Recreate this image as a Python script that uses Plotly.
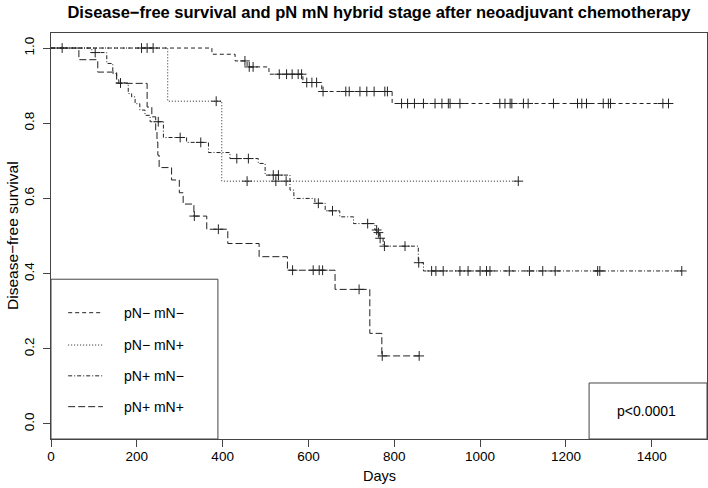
import plotly.graph_objects as go

# ---------------- data ----------------
groups = ["pN− mN−", "pN− mN+", "pN+ mN−", "pN+ mN+"]

nn_event_days = [375, 429, 457, 508, 587, 631, 795]
nn_event_surv = [0.9835, 0.9657, 0.9498, 0.9304, 0.9083, 0.8844, 0.8525]
nn_censor_days = [26, 211, 224, 238, 452, 462, 471, 532, 549, 562, 576, 584,
                  596, 608, 619, 634, 687, 695, 720, 736, 753, 778, 784,
                  817, 831, 847, 868, 895, 911, 926, 930, 953, 1046, 1058,
                  1070, 1074, 1101, 1112, 1171, 1227, 1237, 1248, 1287, 1299,
                  1304, 1426, 1439]

np_event_days = [272, 398]
np_event_surv = [0.8586, 0.6459]
np_censor_days = [385, 457, 524, 548, 1089]

pn_event_days = [95, 130, 144, 153, 158, 180, 188, 196, 207, 219, 231, 262,
                 316, 367, 417, 483, 499, 557, 566, 615, 639, 673, 705, 755,
                 761, 766, 774, 856, 868]
pn_event_surv = [0.988, 0.959, 0.932, 0.916, 0.907, 0.879, 0.870, 0.852,
                 0.835, 0.821, 0.804, 0.762, 0.749, 0.722, 0.706, 0.693,
                 0.662, 0.622, 0.600, 0.587, 0.567, 0.551, 0.533, 0.516,
                 0.509, 0.494, 0.473, 0.429, 0.407]
pn_censor_days = [103, 162, 250, 301, 349, 433, 460, 518, 530, 623, 656, 738,
                  759, 763, 767, 777, 825, 857, 887, 897, 914, 953, 972, 1000,
                  1015, 1023, 1068, 1115, 1146, 1175, 1274, 1279, 1470]

pp_event_days = [65, 109, 153, 224, 235, 244, 247, 249, 252, 281, 299, 308,
                 333, 363, 412, 485, 551, 662, 743, 771]
pp_event_surv = [0.969, 0.936, 0.906, 0.843, 0.817, 0.780, 0.750, 0.715,
                 0.682, 0.649, 0.615, 0.585, 0.553, 0.518, 0.480, 0.445,
                 0.409, 0.358, 0.241, 0.181]
pp_censor_days = [334, 390, 563, 611, 625, 633, 718, 772, 858]

x_ticks = [0, 200, 400, 600, 800, 1000, 1200, 1400]
y_ticks = [0.0, 0.2, 0.4, 0.6, 0.8, 1.0]

p_text = "p<0.0001"
title_text = "Disease−free survival and pN mN hybrid stage after neoadjuvant chemotherapy"
x_title = "Days"
y_title = "Disease−free survival"

# ---------------- styles ----------------
dashes = ["4px,3px", "1px,2px", "4px,2px,1px,2px", "7px,3px"]
line_col = "#222222"
frame_col = "#444444"
FONT = "Liberation Sans, Arial, Helvetica, sans-serif"

series = [
    (nn_event_days, nn_event_surv, nn_censor_days),
    (np_event_days, np_event_surv, np_censor_days),
    (pn_event_days, pn_event_surv, pn_censor_days),
    (pp_event_days, pp_event_surv, pp_censor_days),
]


def surv_at(t, ev_days, ev_surv):
    s = 1.0
    for d, v in zip(ev_days, ev_surv):
        if d <= t:
            s = v
    return s


fig = go.Figure()
for (ed, es, cd), dash, name in zip(series, dashes, groups):
    last = max(max(ed), max(cd))
    xs = [0] + list(ed) + [last]
    ys = [1.0] + list(es) + [es[-1]]
    fig.add_trace(go.Scatter(x=xs, y=ys, mode="lines", line_shape="hv",
                             line=dict(color=line_col, width=1, dash=dash),
                             name=name, showlegend=False, hoverinfo="skip"))
    cy = [surv_at(t, ed, es) for t in cd]
    fig.add_trace(go.Scatter(x=cd, y=cy, mode="markers",
                             marker=dict(symbol="cross-thin", size=7,
                                         line=dict(color=line_col, width=1)),
                             showlegend=False, hoverinfo="skip"))

XMAX = 1528.8
shapes = []
# legend box
shapes.append(dict(type="rect", xref="x", yref="y", x0=0, x1=389, y0=-0.04, y1=0.385,
                   line=dict(color=frame_col, width=1)))
# p-value box
shapes.append(dict(type="rect", xref="x", yref="y", x0=1254, x1=XMAX, y0=-0.04, y1=0.109,
                   line=dict(color=frame_col, width=1)))
annotations = []
legend_rows = [0.296, 0.210, 0.128, 0.046]
for name, dash, yy in zip(groups, dashes, legend_rows):
    shapes.append(dict(type="line", xref="x", yref="y", x0=40, x1=121, y0=yy, y1=yy,
                       line=dict(color=line_col, width=1, dash=dash)))
    annotations.append(dict(x=166, y=yy, xref="x", yref="y", text=name, showarrow=False,
                            xanchor="left", yanchor="middle",
                            font=dict(family=FONT, size=14, color="black")))
annotations.append(dict(x=1387, y=0.035, xref="x", yref="y", text=p_text, showarrow=False,
                        xanchor="center", yanchor="middle",
                        font=dict(family=FONT, size=14, color="black")))
annotations.append(dict(x=0, y=0.5, xref="paper", yref="paper", text=y_title, showarrow=False,
                        textangle=-90, xanchor="center", yanchor="middle", xshift=-39,
                        font=dict(family=FONT, size=15.5, color="black")))
annotations.append(dict(x=0.5, y=0, xref="paper", yref="paper", text=x_title, showarrow=False,
                        xanchor="center", yanchor="middle", yshift=-37,
                        font=dict(family=FONT, size=14.5, color="black")))

fig.update_layout(
    width=708, height=488,
    margin=dict(l=51, r=1, t=33, b=49),
    paper_bgcolor="white", plot_bgcolor="white",
    title=dict(text="<b>" + title_text + "</b>", x=0.5, xref="paper", xanchor="center",
               y=1 - 12 / 488, yref="container", yanchor="middle",
               font=dict(family=FONT, size=16.5, color="black")),
    shapes=shapes, annotations=annotations,
    showlegend=False,
)
fig.update_xaxes(range=[0, XMAX], tickvals=x_ticks, ticktext=[str(v) for v in x_ticks],
                 ticks="outside", ticklen=7, tickcolor=frame_col, tickwidth=1,
                 ticklabelstandoff=-2,
                 showline=True, mirror=True, linecolor=frame_col, linewidth=1,
                 showgrid=False, zeroline=False,
                 tickfont=dict(family=FONT, size=13.5, color="black"))
fig.update_yaxes(range=[-0.04, 1.04], tickvals=y_ticks, ticktext=["%.1f" % v for v in y_ticks],
                 ticks="outside", ticklen=7, tickcolor=frame_col, tickwidth=1, tickangle=-90,
                 ticklabelstandoff=4,
                 showline=True, mirror=True, linecolor=frame_col, linewidth=1,
                 showgrid=False, zeroline=False,
                 tickfont=dict(family=FONT, size=13.5, color="black"))

fig.write_html("out.html", config={"displayModeBar": False},
               post_script="document.body.style.margin='0';document.body.style.overflow='hidden';")
